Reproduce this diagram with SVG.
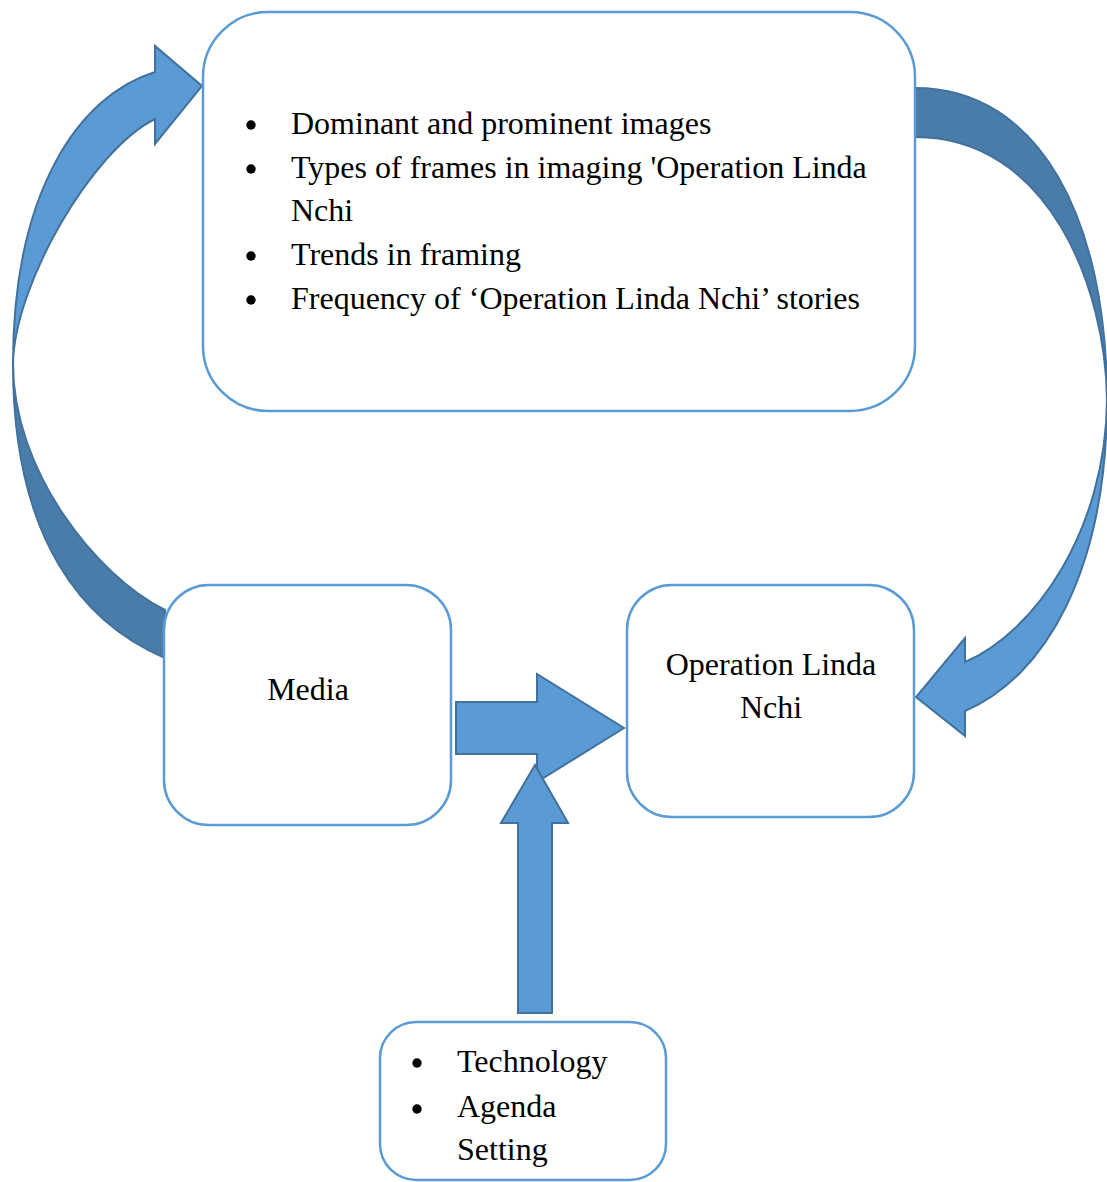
<svg xmlns="http://www.w3.org/2000/svg" width="1107" height="1182" viewBox="0 0 1107 1182">
<style>
.box{fill:#fff;stroke:#5B9BD5;stroke-width:2.5}
.lt{fill:#5B9BD5;stroke:#41719C;stroke-width:2;stroke-linejoin:miter}
.dk{fill:#4A7CAA;stroke:#41719C;stroke-width:2}
.t{font-family:"Liberation Serif","Times New Roman",serif;font-size:32px;fill:#000}
.b{fill:#000}
</style>
<rect width="1107" height="1182" fill="#fff"/>
<g id="connectors">
  <!-- left curved arrow: dark back face -->
  <path class="dk" d="M13,364 C13,542 85,624 165,658 L165,610 C95,575 13,470 13,364 Z"/>
  <!-- left curved arrow: light front face with head -->
  <path class="lt" d="M155,72 C80,95 13,190 13,364 C14,285 92,150 155,119 L155,144 L202,86 L155,46 Z"/>
  <!-- right curved arrow: dark back face -->
  <path class="dk" d="M915,88 C1040,88 1107,220 1107,400 C1106,290 1050,137 915,137 Z"/>
  <!-- right curved arrow: light front face with head -->
  <path class="lt" d="M1107,400 C1107,570 1045,677 965,711 L965,736 L916,697 L965,638 L965,662 C1035,632 1106,530 1107,400 Z"/>
  <!-- straight arrow Media -> Operation -->
  <path class="lt" d="M456,702 L537,702 L537,674 L624,728 L537,782 L537,754 L456,754 Z"/>
  <!-- up arrow from bottom box -->
  <path class="lt" d="M518,1013 L518,823 L501,823 L535,765 L568,823 L552,823 L552,1013 Z"/>
</g>
<g id="node-top">
  <rect class="box" x="203" y="12" width="712" height="399" rx="65" ry="65"/>
  <circle class="b" cx="251" cy="125" r="4.7"/>
  <circle class="b" cx="251" cy="169" r="4.7"/>
  <circle class="b" cx="251" cy="256" r="4.7"/>
  <circle class="b" cx="251" cy="300" r="4.7"/>
  <text class="t" x="291" y="134">Dominant and prominent images</text>
  <text class="t" x="291" y="178">Types of frames in imaging 'Operation Linda</text>
  <text class="t" x="291" y="221">Nchi</text>
  <text class="t" x="291" y="265">Trends in framing</text>
  <text class="t" x="291" y="309">Frequency of ‘Operation Linda Nchi’ stories</text>
</g>
<g id="node-media">
  <rect class="box" x="164" y="585" width="287" height="240" rx="45" ry="45"/>
  <text class="t" x="308" y="700" text-anchor="middle">Media</text>
</g>
<g id="node-operation">
  <rect class="box" x="627" y="585" width="287" height="232" rx="45" ry="45"/>
  <text class="t" x="771" y="675" text-anchor="middle">Operation Linda</text>
  <text class="t" x="771" y="718" text-anchor="middle">Nchi</text>
</g>
<g id="node-bottom">
  <rect class="box" x="380" y="1022" width="286" height="158" rx="36" ry="36"/>
  <circle class="b" cx="417" cy="1063" r="4.7"/>
  <circle class="b" cx="417" cy="1109" r="4.7"/>
  <text class="t" x="457" y="1072">Technology</text>
  <text class="t" x="457" y="1117">Agenda</text>
  <text class="t" x="457" y="1160">Setting</text>
</g>
</svg>
